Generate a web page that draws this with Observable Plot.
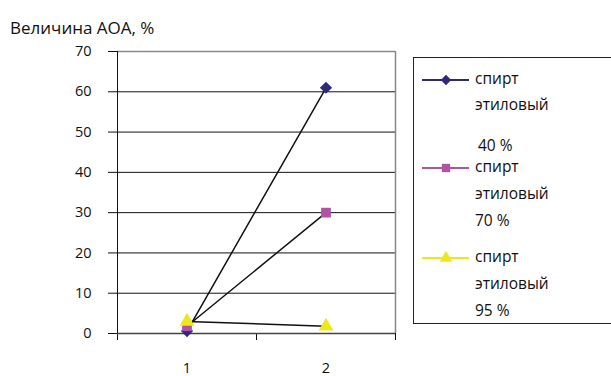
<!DOCTYPE html>
<html>
<head>
<meta charset="utf-8">
<script src="https://cdn.jsdelivr.net/npm/d3@7"></script>
<script src="https://cdn.jsdelivr.net/npm/@observablehq/plot@0.6"></script>
<style>
  html, body { margin: 0; padding: 0; background: #fff; }
  body { width: 611px; height: 376px; position: relative; overflow: hidden; font-family: "Open Sans", sans-serif; }
  #chart { position: absolute; left: 0; top: 0; }
  #title { position: absolute; left: 10px; top: 16px; white-space: nowrap; font-size: 17px; color: #111; }
  #legend { position: absolute; left: 413px; top: 57px; width: 210px; height: 267px; border: 1px solid #222; box-sizing: border-box; font-size: 15.5px; color: #111; }
  .lt { position: absolute; white-space: nowrap; line-height: 16px; }
  .sw { position: absolute; }
</style>
</head>
<body>
<div id="chart"></div>
<div id="title"></div>
<div id="legend"></div>
<script>
const categories = [1, 2];
const seriesNames = ["спирт этиловый 40 %", "спирт этиловый 70 %", "спирт этиловый 95 %"];
const values40 = [0.6, 61];
const values70 = [1.8, 30];
const values95 = [3, 1.8];
const seriesColors = ["#2E2A7A", "#B052A6", "#EDE81E"];
const seriesSymbols = ["diamond2", "square", "triangle"];
const yTicks = [0, 10, 20, 30, 40, 50, 60, 70];
const titleText = "Величина АОА, %";

const allValues = [values40, values70, values95];
const data = [];
allValues.forEach((vals, si) => vals.forEach((v, i) => data.push({series: seriesNames[si], x: categories[i], y: v, si})));

const plot = Plot.plot({
  width: 611,
  height: 376,
  marginLeft: 117,
  marginRight: 216,
  marginTop: 51,
  marginBottom: 43,
  style: {fontFamily: "Open Sans, sans-serif", fontSize: "14.5px", color: "#111", background: "transparent"},
  x: {domain: [0.5, 2.5], axis: null, label: null},
  y: {domain: [0, 70], axis: null, label: null},
  color: {domain: seriesNames, range: seriesColors},
  symbol: {domain: seriesNames, range: seriesSymbols},
  marks: [
    Plot.ruleY(yTicks.filter(d => d > 0 && d < 70), {stroke: "#111", strokeWidth: 1}),
    Plot.ruleY([70], {stroke: "#888", strokeWidth: 1.5}),
    Plot.ruleX([2.5], {y1: 0, y2: 70, stroke: "#888", strokeWidth: 1.5}),
    Plot.axisY({ticks: yTicks, tickSize: 9, tickPadding: 17, stroke: "#111", label: null}),
    Plot.axisX({ticks: [0.5, 1.5, 2.5], tickSize: 7, tickFormat: () => "", stroke: "#111", label: null}),
    Plot.axisX({ticks: categories, tickSize: 0, tickPadding: 29, tickFormat: d3.format("d"), label: null}),
    Plot.ruleX([0.5], {y1: 0, y2: 70, stroke: "#111", strokeWidth: 1}),
    Plot.ruleY([0], {stroke: "#444", strokeWidth: 1.5}),
    Plot.line(data, {x: "x", y: "y", z: "series", stroke: "#111", strokeWidth: 1.5}),
    Plot.dot(data, {x: "x", y: "y", fill: "series", symbol: "series", r: 5.5, stroke: "none"})
  ]
});
document.getElementById("chart").appendChild(plot);
document.getElementById("title").textContent = titleText;

// legend
const legend = document.getElementById("legend");
const itemTops = [22, 110, 200];
const labelParts = seriesNames.map(n => {
  const m = n.match(/^(\S+) (\S+) (.+)$/);
  return [m[1], m[2], m[3]];
});
itemTops.forEach((top, i) => {
  const sw = document.createElementNS("http://www.w3.org/2000/svg", "svg");
  sw.setAttribute("class", "sw");
  sw.setAttribute("width", 50);
  sw.setAttribute("height", 14);
  sw.style.left = "8px";
  sw.style.top = (top - 7) + "px";
  const line = document.createElementNS("http://www.w3.org/2000/svg", "line");
  line.setAttribute("x1", 0); line.setAttribute("x2", 47);
  line.setAttribute("y1", 7); line.setAttribute("y2", 7);
  line.setAttribute("stroke", seriesColors[i]); line.setAttribute("stroke-width", 2);
  sw.appendChild(line);
  const sym = Plot.scale({symbol: {domain: seriesNames, range: seriesSymbols}}).apply(seriesNames[i]);
  const p = document.createElementNS("http://www.w3.org/2000/svg", "path");
  p.setAttribute("d", d3.symbol(sym, 70)());
  p.setAttribute("transform", "translate(24,7)");
  p.setAttribute("fill", seriesColors[i]);
  sw.appendChild(p);
  legend.appendChild(sw);
  const offs = i === 0 ? [0, 26, 67] : [0, 27, 54];
  labelParts[i].forEach((t, j) => {
    const d = document.createElement("div");
    d.className = "lt";
    d.textContent = t;
    d.style.left = (i === 0 && j === 2 ? 64 : 61) + "px";
    d.style.top = (top - 10 + offs[j]) + "px";
    legend.appendChild(d);
  });
});
</script>
</body>
</html>
